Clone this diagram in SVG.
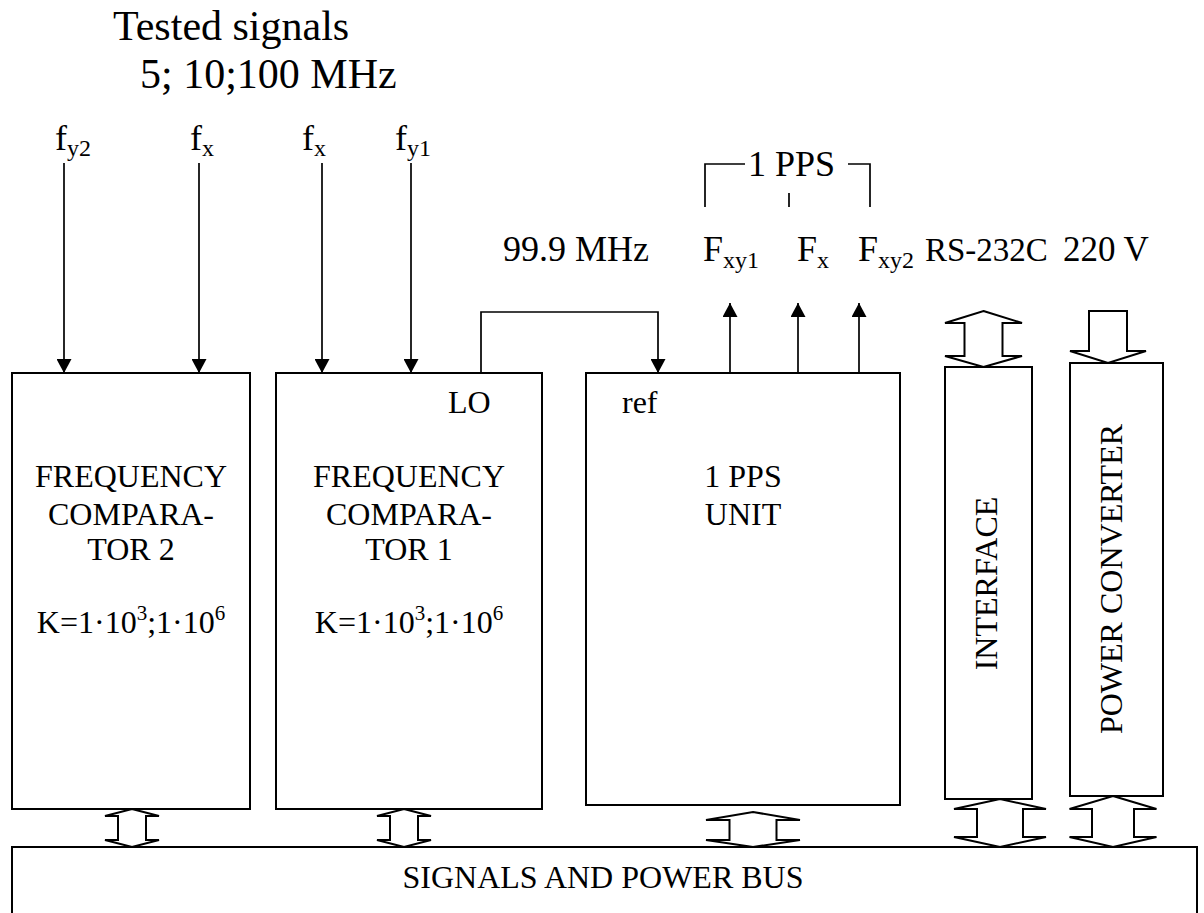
<svg xmlns="http://www.w3.org/2000/svg" width="1204" height="913" viewBox="0 0 1204 913">
<style>
text{font-family:"Liberation Serif","Times New Roman",serif;fill:#000}
.box{fill:#fff;stroke:#000;stroke-width:2}
.ln{fill:none;stroke:#000;stroke-width:1.7}
.big{fill:#fff;stroke:#000;stroke-width:2;stroke-linejoin:miter}
.t32{font-size:32px}
.t36{font-size:36px}
.t42{font-size:42px}
</style>
<defs>
<marker id="ah" markerWidth="16" markerHeight="15" refX="14" refY="7.5" orient="auto" markerUnits="userSpaceOnUse"><path d="M0,0 L14,7.5 L0,15 Z" fill="#000"/></marker>
</defs>
<rect width="1204" height="913" fill="#fff"/>
<g id="title">
<text class="t42" x="113" y="40">Tested signals</text>
<text class="t42" x="140" y="88">5; 10;100 MHz</text>
</g>
<g id="input-labels" class="t36">
<text x="55" y="150">f<tspan font-size="24" dy="6">y2</tspan></text>
<text x="190" y="150">f<tspan font-size="24" dy="6">x</tspan></text>
<text x="302" y="150">f<tspan font-size="24" dy="6">x</tspan></text>
<text x="395" y="150">f<tspan font-size="24" dy="6">y1</tspan></text>
</g>
<g id="output-labels">
<text class="t36" x="503" y="261">99.9 MHz</text>
<text class="t36" x="703" y="261">F<tspan font-size="24" dy="7">xy1</tspan></text>
<text class="t36" x="797" y="261">F<tspan font-size="24" dy="7">x</tspan></text>
<text class="t36" x="858" y="261">F<tspan font-size="24" dy="7">xy2</tspan></text>
<text font-size="33" x="925" y="261">RS-232C</text>
<text font-size="35" x="1063" y="261">220 V</text>
<text class="t36" x="748" y="176">1 PPS</text>
</g>
<g id="connectors">
<path class="ln" d="M705,207 V164 H745 M848,164 H870 V207 M789,193 V207"/>
<line class="ln" x1="64" y1="163" x2="64" y2="373" marker-end="url(#ah)"/>
<line class="ln" x1="199" y1="163" x2="199" y2="373" marker-end="url(#ah)"/>
<line class="ln" x1="322" y1="163" x2="322" y2="373" marker-end="url(#ah)"/>
<line class="ln" x1="411" y1="163" x2="411" y2="373" marker-end="url(#ah)"/>
<path class="ln" d="M481,373 V312 H658 V373" marker-end="url(#ah)"/>
<line class="ln" x1="730" y1="373" x2="730" y2="303" marker-end="url(#ah)"/>
<line class="ln" x1="798" y1="373" x2="798" y2="303" marker-end="url(#ah)"/>
<line class="ln" x1="859" y1="373" x2="859" y2="303" marker-end="url(#ah)"/>
<polygon class="big" points="983.5,311 1022,323 1002.5,323 1002.5,356 1022,356 983.5,367 945,356 964.5,356 964.5,323 945,323"/>
<polygon class="big" points="1089,311 1127,311 1127,351 1146,351 1108,363 1070,351 1089,351"/>
<polygon class="big" points="132,809 159,816 146,816 146,840 159,840 132,847 105,840 118,840 118,816 105,816"/>
<polygon class="big" points="404,809 431,816 418,816 418,840 431,840 404,847 377,840 390,840 390,816 377,816"/>
<polygon class="big" points="753,812 800,820 776.5,820 776.5,840 800,840 753,847 706,840 729.5,840 729.5,820 706,820"/>
<polygon class="big" points="1000,799 1046,809 1023,809 1023,837 1046,837 1000,847 954,837 977,837 977,809 954,809"/>
<polygon class="big" points="1113,796 1156.5,809 1134,809 1134,837 1156.5,837 1113,847 1069.5,837 1092,837 1092,809 1069.5,809"/>
</g>
<g id="fc2">
<rect class="box" x="12" y="373" width="238" height="436"/>
<text class="t32" text-anchor="middle" x="131" y="487">FREQUENCY</text>
<text class="t32" text-anchor="middle" x="131" y="525">COMPARA-</text>
<text class="t32" text-anchor="middle" x="131" y="560">TOR 2</text>
<text class="t32" text-anchor="middle" x="131" y="633">K=1·10<tspan font-size="21" dy="-13">3</tspan><tspan dy="13">;1·10</tspan><tspan font-size="21" dy="-13">6</tspan></text>
</g>
<g id="fc1">
<rect class="box" x="276" y="373" width="266" height="436"/>
<text class="t32" x="448" y="413">LO</text>
<text class="t32" text-anchor="middle" x="409" y="487">FREQUENCY</text>
<text class="t32" text-anchor="middle" x="409" y="525">COMPARA-</text>
<text class="t32" text-anchor="middle" x="409" y="560">TOR 1</text>
<text class="t32" text-anchor="middle" x="409" y="633">K=1·10<tspan font-size="21" dy="-13">3</tspan><tspan dy="13">;1·10</tspan><tspan font-size="21" dy="-13">6</tspan></text>
</g>
<g id="pps">
<rect class="box" x="586" y="373" width="314" height="432"/>
<text class="t32" x="622" y="413">ref</text>
<text class="t32" text-anchor="middle" x="743" y="487">1 PPS</text>
<text class="t32" text-anchor="middle" x="743" y="525">UNIT</text>
</g>
<g id="interface">
<rect class="box" x="945" y="367" width="87" height="432"/>
<text class="t32" text-anchor="middle" transform="translate(997,583.5) rotate(-90)">INTERFACE</text>
</g>
<g id="power">
<rect class="box" x="1070" y="363" width="93" height="433"/>
<text class="t32" text-anchor="middle" transform="translate(1122,579) rotate(-90)">POWER CONVERTER</text>
</g>
<g id="bus">
<rect class="box" x="12" y="847" width="1185" height="70"/>
<text class="t32" text-anchor="middle" x="603" y="888">SIGNALS AND POWER BUS</text>
</g>
</svg>
